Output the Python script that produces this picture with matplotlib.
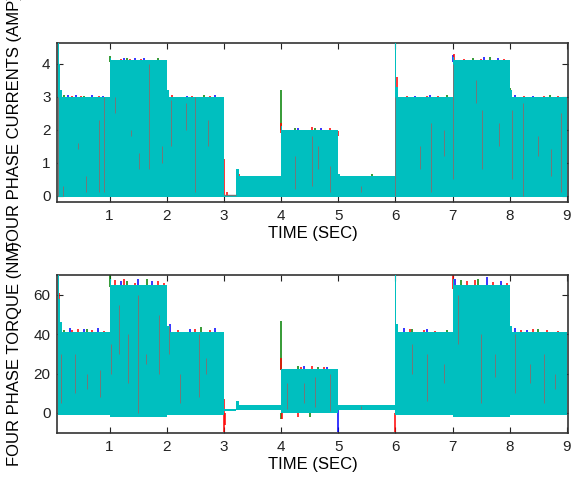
import numpy as np
import matplotlib
matplotlib.use("Agg")
from matplotlib import pyplot as plt

plt.rcParams['font.family'] = ['Liberation Sans', 'DejaVu Sans']

# phase colours (blue, green, red, cyan)
c_blue, c_green, c_red, c_cyan = (0, 0, 1), (0, 0.5, 0), (1, 0, 0), (0, 0.75, 0.75)
c_grey = (0.45, 0.47, 0.47)

# ---- phase currents: envelope of the chopped currents (step segments)
cur_edges = [0.10, 0.115, 0.13, 0.16, 1.00, 1.03, 2.00, 2.04, 3.00, 3.22, 3.26,
             4.00, 4.01, 5.00, 5.03, 6.00, 6.015, 6.05, 7.00, 7.03, 8.00, 8.04, 9.00]
cur_top = [4.62, 4.0, 3.2, 3.0, 4.18, 4.12, 3.2, 3.0, 0.02, 0.8, 0.6,
           2.1, 2.0, 0.65, 0.58, 4.62, 3.3, 3.0, 4.2, 4.12, 3.2, 3.0]
cur_bottom = -0.05

# peaks of single phases showing above the envelope: (time, low, high)
cur_blue = [(0.27, 2.95, 3.05), (0.42, 2.95, 3.04), (0.70, 2.95, 3.04), (0.88, 2.95, 3.03),
            (1.25, 4.05, 4.17), (1.45, 4.05, 4.18), (1.60, 4.05, 4.16), (2.35, 2.95, 3.03),
            (2.85, 2.95, 3.06), (4.30, 1.95, 2.05), (4.70, 1.95, 2.06), (6.35, 2.95, 3.03),
            (6.60, 2.95, 3.05), (7.00, 4.05, 4.25), (7.55, 4.05, 4.20), (7.80, 4.05, 4.17),
            (8.10, 2.95, 3.05), (8.40, 2.95, 3.03)]
cur_green = [(0.20, 2.95, 3.04), (0.55, 2.95, 3.03), (1.00, 4.05, 4.24), (1.30, 4.05, 4.16),
             (1.85, 4.05, 4.18), (2.65, 2.95, 3.04), (4.00, 2.00, 3.20), (4.25, 1.95, 2.06),
             (4.60, 1.95, 2.05), (5.60, 0.55, 0.65), (6.90, 2.95, 3.04), (7.35, 4.05, 4.18),
             (7.65, 4.05, 4.20), (8.00, 3.00, 3.25), (8.70, 2.95, 3.04)]
cur_red = [(0.12, 3.60, 3.90), (0.35, 2.90, 3.02), (0.50, 2.90, 3.03), (0.63, 2.90, 3.00),
           (0.82, 2.90, 3.02), (1.20, 4.00, 4.15), (1.35, 4.00, 4.14), (1.55, 4.00, 4.13),
           (1.90, 4.00, 4.12), (2.00, 3.00, 3.15), (2.10, 2.90, 3.05), (2.45, 2.90, 3.02),
           (2.75, 2.90, 3.03), (3.01, 0.00, 1.10), (3.05, 0.00, 0.10), (3.27, 0.55, 0.65),
           (4.00, 1.90, 2.20), (4.55, 1.90, 2.08), (4.85, 1.90, 2.05), (5.00, 1.80, 1.95),
           (6.03, 3.20, 3.60), (6.20, 2.90, 3.03), (6.55, 2.90, 3.03), (6.75, 2.90, 3.02),
           (7.03, 4.00, 4.28), (7.20, 4.00, 4.14), (7.50, 4.00, 4.15), (7.75, 4.00, 4.10),
           (7.90, 4.00, 4.13), (8.00, 2.90, 3.20), (8.25, 2.90, 3.03), (8.60, 2.90, 3.02),
           (8.85, 2.90, 3.03)]
cur_stripes = [(0.10, 0.0, 3.0), (0.19, 0.0, 0.3), (0.45, 1.4, 1.6), (0.59, 0.1, 0.6),
               (0.81, 0.1, 2.3), (0.91, 0.1, 3.0), (1.09, 2.5, 3.0), (1.38, 1.8, 2.0),
               (1.52, 0.8, 1.3), (1.69, 0.8, 4.0), (1.92, 1.0, 1.5), (2.07, 1.5, 2.9),
               (2.33, 2.0, 2.8), (2.50, 0.1, 3.0), (2.73, 1.5, 2.3), (4.24, 0.2, 1.2),
               (4.55, 0.3, 1.8), (4.64, 0.8, 1.5), (4.85, 0.1, 0.9), (5.40, 0.1, 0.3),
               (6.00, 0.0, 3.0), (6.43, 0.8, 1.5), (6.63, 0.1, 2.2), (6.86, 1.2, 2.0),
               (7.00, 0.5, 4.0), (7.41, 2.8, 3.5), (7.51, 0.8, 2.6), (7.81, 1.5, 2.2),
               (8.04, 0.5, 2.6), (8.24, 0.0, 2.8), (8.50, 1.2, 1.8), (8.73, 0.6, 1.4),
               (8.90, 0.1, 2.5)]

# ---- phase torque envelope
tq_edges = [0.10, 0.115, 0.135, 0.16, 1.00, 1.02, 2.00, 2.05, 3.00, 3.22, 3.26,
            4.00, 5.00, 6.00, 6.015, 6.05, 7.00, 7.02, 8.00, 8.04, 9.00]
tq_top = [70, 58, 46, 41, 68, 65, 44, 41, 1.8, 6, 3.8, 22.5, 3.8, 70, 45, 41, 68, 65, 44, 41]
tq_bottom = [-1, -1, -1, -1, -2, -2, -1, -1, 1.0, 1.5, 1.5, 0, 1.5, -1, -1, -1, -2, -2, -1, -1]

tq_blue = [(0.30, 40, 43), (0.55, 40, 42.5), (0.80, 40, 43), (1.20, 64, 67), (1.50, 64, 68),
           (1.75, 64, 67), (2.05, 41, 45), (2.40, 40, 42.5), (2.85, 40, 43), (4.40, 21, 24),
           (4.80, 21, 23.5), (5.00, -10, 2), (6.15, 40, 43), (6.55, 40, 42.5), (7.05, 64, 68),
           (7.60, 64, 69), (7.85, 64, 67), (8.10, 40, 43), (8.30, 40, 42)]
tq_green = [(0.20, 40, 42), (0.60, 40, 42.5), (1.00, 64, 70), (1.30, 64, 67), (1.65, 64, 68),
            (2.60, 40, 43.5), (4.00, 22, 47), (4.00, -3, 0), (4.30, 21, 24), (4.65, 21, 23.5),
            (4.50, -2, 0), (6.30, 40, 42.5), (6.90, 40, 42), (7.15, 64, 67.5), (7.45, 64, 68),
            (8.50, 40, 42.5)]
tq_red = [(0.12, 55, 61), (0.35, 39, 42), (0.45, 39, 42.5), (0.70, 39, 42), (0.90, 39, 41.5),
          (1.10, 63, 67.5), (1.25, 63, 68), (1.45, 63, 66), (1.85, 63, 67), (1.95, 62, 66),
          (2.20, 39, 42), (2.50, 39, 42.5), (2.75, 39, 42), (3.00, -10, 7), (3.02, -6, 0),
          (4.00, 22, 28), (4.01, -3, 0), (4.35, 21, 23.5), (4.55, 21, 24), (4.75, 21, 23.5),
          (4.30, -2, 0), (6.00, -10, 0), (6.25, 39, 42.5), (6.50, 39, 42), (6.70, 39, 41.5),
          (7.00, 63, 70), (7.25, 63, 67), (7.40, 63, 67.5), (7.70, 63, 66.5), (7.95, 63, 66),
          (8.20, 39, 42), (8.40, 39, 42.5), (8.65, 39, 42), (8.85, 39, 41.5)]
tq_stripes = [(0.15, 5, 30), (0.39, 10, 30), (0.61, 12, 20), (0.84, 8, 22), (1.03, 20, 35),
              (1.17, 30, 55), (1.32, 15, 40), (1.49, 0, 60), (1.64, 25, 30), (1.87, 20, 50),
              (2.04, 30, 44), (2.24, 5, 20), (2.56, 8, 40), (2.68, 20, 28), (4.10, 2, 15),
              (4.40, 5, 15), (4.60, 3, 18), (4.85, 1, 20), (5.40, 2, 3.5), (6.30, 20, 35),
              (6.55, 6, 30), (6.85, 15, 25), (7.10, 35, 60), (7.50, 5, 40), (7.75, 18, 30),
              (8.10, 10, 40), (8.35, 15, 25), (8.60, 5, 30), (8.80, 12, 20)]


def steps(edges, vals):
    x = np.repeat(edges, 2)[1:-1]
    y = np.repeat(vals, 2)
    return x, y


def draw_phases(ax, edges, top, bottom, blue, green, red, stripes):
    for marks, col in ((blue, c_blue), (green, c_green), (red, c_red)):
        t, lo, hi = np.array(marks).T
        ax.vlines(t, lo, hi, color=col, lw=1.1, zorder=2)
    x, y_top = steps(edges, top)
    if np.isscalar(bottom):
        y_bot = np.full_like(y_top, bottom, dtype=float)
    else:
        _, y_bot = steps(edges, bottom)
    ax.fill_between(x, y_bot, y_top, color=c_cyan, lw=0, zorder=3)
    t, lo, hi = np.array(stripes).T
    ax.vlines(t, lo, hi, color=c_grey, lw=0.7, zorder=4)


fig = plt.figure(figsize=(5.71, 4.79), dpi=100)
ax1 = fig.add_axes([0.1007, 0.578, 0.894, 0.332])
ax2 = fig.add_axes([0.1007, 0.096, 0.894, 0.330])

draw_phases(ax1, cur_edges, cur_top, cur_bottom, cur_blue, cur_green, cur_red, cur_stripes)
ax1.hlines(0.03, 3.0, 3.22, color=c_grey, lw=1.0, zorder=4)
draw_phases(ax2, tq_edges, tq_top, tq_bottom, tq_blue, tq_green, tq_red, tq_stripes)

ax1.set_xlim(0.09, 9.02)
ax1.set_ylim(-0.2, 4.62)
ax1.set_yticks([0, 1, 2, 3, 4])
ax1.set_ylabel('FOUR PHASE CURRENTS (AMP)', fontsize=12)

ax2.set_xlim(0.09, 9.02)
ax2.set_ylim(-10.3, 70.2)
ax2.set_yticks([0, 20, 40, 60])
ax2.set_ylabel('FOUR PHASE TORQUE (NM)', fontsize=12)

for ax in (ax1, ax2):
    ax.set_xticks(range(1, 10))
    ax.set_xlabel('TIME (SEC)', fontsize=12, labelpad=2)
    ax.tick_params(direction='in', top=True, right=True, length=4, width=0.8,
                   labelsize=11, colors='#222222', pad=5)
    for s in ax.spines.values():
        s.set_linewidth(1.2)
        s.set_color('#333333')
    ax.yaxis.set_label_coords(-0.07, 0.5)

fig.savefig('out.png', dpi=100)
